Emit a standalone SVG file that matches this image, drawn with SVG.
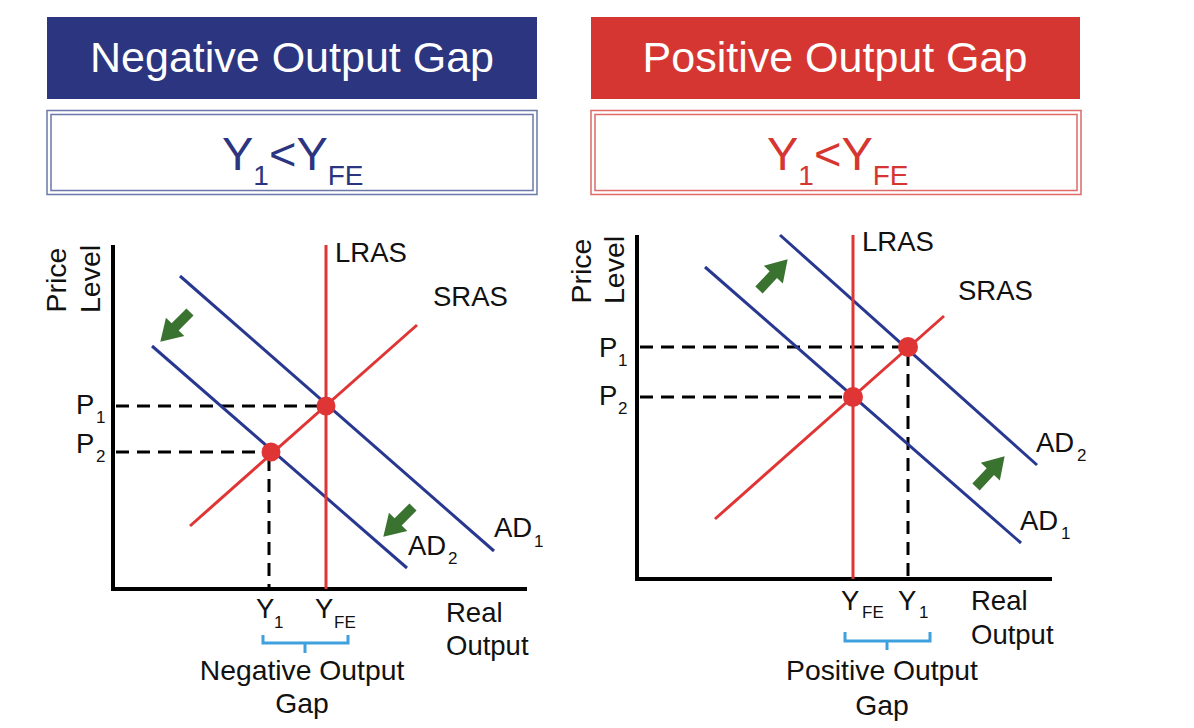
<svg xmlns="http://www.w3.org/2000/svg" width="1194" height="728" viewBox="0 0 1194 728">
<style>
text{font-family:"Liberation Sans",Arial,sans-serif;}
.hd{fill:#ffffff;font-size:43px;text-anchor:middle;}
.sub{font-size:47px;}
.lb{font-size:27.5px;fill:#111;}
.pl{font-size:28.5px;fill:#111;text-anchor:middle;}
.gp{font-size:28.3px;fill:#111;text-anchor:middle;}
.sm{font-size:17px;fill:#111;}
.ax{stroke:#000;stroke-width:4;fill:none;}
.ad{stroke:#283891;stroke-width:3;fill:none;}
.as{stroke:#e03535;stroke-width:3;fill:none;}
.dash{stroke:#000;stroke-width:3;stroke-dasharray:13 8;fill:none;}
.pt{fill:#e03535;}
.br{stroke:#3ea0dc;stroke-width:3;fill:none;}
.arr{fill:#3a7330;}
</style>
<defs>
<polygon id="garrow" points="0,-5 21,-5 21,-13 42,0 21,13 21,5 0,5"/>
</defs>
<rect width="1194" height="728" fill="#ffffff"/>

<g id="header-negative">
<rect x="47" y="17" width="490" height="82" fill="#2b3580"/>
<text class="hd" x="292" y="72">Negative Output Gap</text>
</g>
<g id="header-positive">
<rect x="591" y="17" width="489" height="82" fill="#d63631"/>
<text class="hd" x="835" y="72">Positive Output Gap</text>
</g>

<g id="sub-negative">
<rect x="47" y="110.5" width="490" height="84" fill="#fff" stroke="#6b78a8" stroke-width="1.5"/>
<rect x="51" y="114.5" width="482" height="76" fill="none" stroke="#6b78a8" stroke-width="1.5"/>
<text class="sub" x="222" y="170" fill="#2b3580">Y<tspan dy="15" font-size="28">1</tspan><tspan dy="-15">&lt;Y</tspan><tspan dy="15" font-size="28">FE</tspan></text>
</g>
<g id="sub-positive">
<rect x="591" y="110.5" width="490" height="84" fill="#fff" stroke="#dc6a66" stroke-width="1.5"/>
<rect x="595" y="114.5" width="482" height="76" fill="none" stroke="#dc6a66" stroke-width="1.5"/>
<text class="sub" x="767" y="170" fill="#d63631">Y<tspan dy="15" font-size="28">1</tspan><tspan dy="-15">&lt;Y</tspan><tspan dy="15" font-size="28">FE</tspan></text>
</g>

<!-- LEFT CHART -->
<g id="left-axes">
<polyline class="ax" points="113,245 113,589 527,589"/>
<text class="pl" transform="translate(66,280) rotate(-90)">Price</text>
<text class="pl" transform="translate(100,279) rotate(-90)">Level</text>
<text class="lb" x="446" y="622">Real</text>
<text class="lb" x="446" y="655">Output</text>
</g>
<g id="left-connectors">
<line class="dash" x1="116" y1="406" x2="320" y2="406"/>
<line class="dash" x1="116" y1="452" x2="266" y2="452"/>
<line class="dash" x1="269" y1="458" x2="269" y2="587"/>
<line class="ad" x1="180" y1="276" x2="494" y2="551"/>
<line class="ad" x1="152" y1="346" x2="407" y2="568"/>
<line class="as" x1="190" y1="526" x2="417" y2="325"/>
<line class="as" x1="326" y1="245" x2="326" y2="589"/>
</g>
<g id="left-points">
<circle class="pt" cx="326" cy="406" r="9.5"/>
<circle class="pt" cx="271" cy="452" r="9.5"/>
</g>
<g id="left-arrows">
<use href="#garrow" class="arr" transform="translate(190,312) rotate(135)"/>
<use href="#garrow" class="arr" transform="translate(413,507) rotate(135)"/>
</g>
<g id="left-labels">
<text class="lb" x="335" y="262">LRAS</text>
<text class="lb" x="433" y="306">SRAS</text>
<text class="lb" x="76" y="414">P</text><text class="sm" x="96" y="423">1</text>
<text class="lb" x="76" y="453">P</text><text class="sm" x="96" y="462">2</text>
<text class="lb" x="494" y="537">AD</text><text class="sm" x="534" y="547">1</text>
<text class="lb" x="408" y="555">AD</text><text class="sm" x="448" y="564">2</text>
<text class="lb" x="256" y="618">Y</text><text class="sm" x="274" y="628">1</text>
<text class="lb" x="315" y="618">Y</text><text class="sm" x="334" y="628">FE</text>
</g>
<g id="left-gap">
<polyline class="br" points="263,635 263,643 348,643 348,635"/>
<line class="br" x1="305" y1="643" x2="305" y2="653"/>
<text class="gp" x="302" y="680">Negative Output</text>
<text class="gp" x="302" y="713">Gap</text>
</g>

<!-- RIGHT CHART -->
<g id="right-axes">
<polyline class="ax" points="637,235 637,579 1052,579"/>
<text class="pl" transform="translate(591,271) rotate(-90)">Price</text>
<text class="pl" transform="translate(624,270) rotate(-90)">Level</text>
<text class="lb" x="971" y="610">Real</text>
<text class="lb" x="971" y="644">Output</text>
</g>
<g id="right-connectors">
<line class="dash" x1="640" y1="347" x2="902" y2="347"/>
<line class="dash" x1="640" y1="397" x2="847" y2="397"/>
<line class="dash" x1="908" y1="353" x2="908" y2="577"/>
<line class="ad" x1="705" y1="267" x2="1021" y2="543"/>
<line class="ad" x1="780" y1="235" x2="1037" y2="465"/>
<line class="as" x1="715" y1="519" x2="944" y2="316"/>
<line class="as" x1="853" y1="235" x2="853" y2="579"/>
</g>
<g id="right-points">
<circle class="pt" cx="908" cy="347" r="10"/>
<circle class="pt" cx="853" cy="397" r="10"/>
</g>
<g id="right-arrows">
<use href="#garrow" class="arr" transform="translate(759,290) rotate(-47)"/>
<use href="#garrow" class="arr" transform="translate(976,487) rotate(-47)"/>
</g>
<g id="right-labels">
<text class="lb" x="862" y="251">LRAS</text>
<text class="lb" x="958" y="300">SRAS</text>
<text class="lb" x="599" y="357">P</text><text class="sm" x="618" y="366">1</text>
<text class="lb" x="599" y="405">P</text><text class="sm" x="618" y="414">2</text>
<text class="lb" x="1036" y="452">AD</text><text class="sm" x="1077" y="461">2</text>
<text class="lb" x="1020" y="530">AD</text><text class="sm" x="1061" y="539">1</text>
<text class="lb" x="841" y="610">Y</text><text class="sm" x="862" y="618">FE</text>
<text class="lb" x="898" y="610">Y</text><text class="sm" x="919" y="618">1</text>
</g>
<g id="right-gap">
<polyline class="br" points="845,632 845,641 930,641 930,632"/>
<line class="br" x1="887" y1="641" x2="887" y2="650"/>
<text class="gp" x="882" y="680">Positive Output</text>
<text class="gp" x="882" y="715">Gap</text>
</g>
</svg>
